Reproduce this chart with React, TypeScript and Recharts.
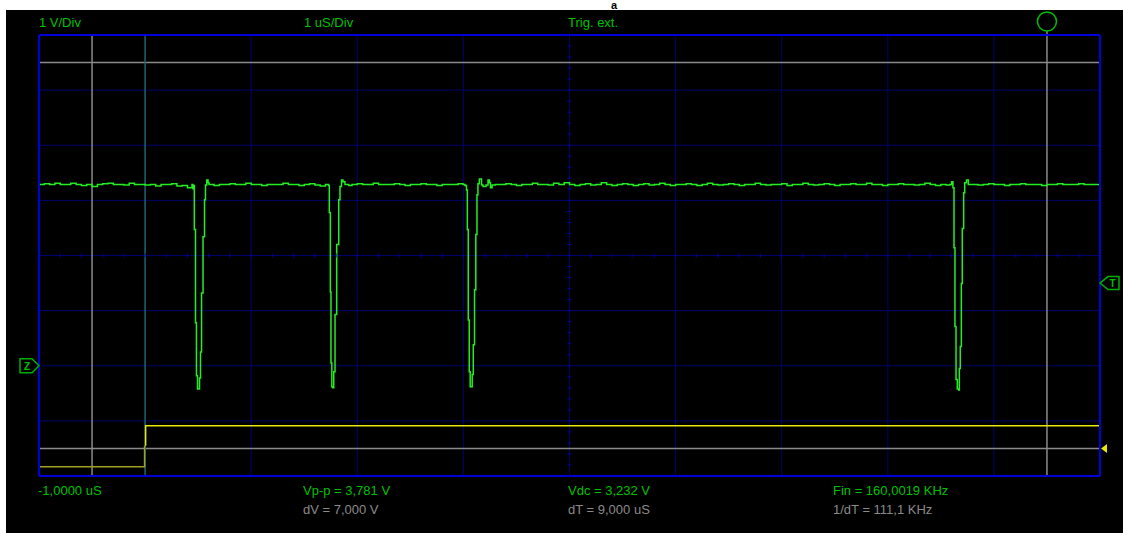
import React from 'react';
import {
  ComposedChart, Line, Scatter, XAxis, YAxis, CartesianGrid, ReferenceLine, ReferenceDot
} from 'recharts';

// time base: 1 uS/Div, starts at -1 uS ; ch1: 1 V/Div
const timeTicks = [-1, 0, 1, 2, 3, 4, 5, 6, 7, 8, 9];
const voltTicks = [-2, -1, 0, 1, 2, 3, 4, 5, 6];
const timeMinor = Array.from({ length: 51 }, (_, i) => -1 + i * 0.2);
const voltMinor = Array.from({ length: 41 }, (_, i) => -2 + i * 0.2);

// channel 1 (green) samples [uS, V]
const ch1Samples: [number, number][] = [
  [-1.00, 3.29], [-0.95, 3.30], [-0.90, 3.29], [-0.85, 3.31], [-0.80, 3.29], [-0.75, 3.29],
  [-0.70, 3.31], [-0.65, 3.29], [-0.60, 3.27], [-0.55, 3.29], [-0.50, 3.25], [-0.45, 3.29],
  [-0.40, 3.30], [-0.35, 3.31], [-0.30, 3.29], [-0.25, 3.29], [-0.20, 3.28], [-0.15, 3.31],
  [-0.10, 3.29], [-0.05, 3.29], [0.00, 3.28], [0.05, 3.29], [0.10, 3.26], [0.15, 3.29],
  [0.20, 3.29], [0.25, 3.30], [0.30, 3.26], [0.35, 3.27], [0.40, 3.23],
  // pulse 1
  [0.442, 3.29], [0.451, 3.21], [0.459, 3.27], [0.464, 2.47], [0.475, 0.78], [0.484, -0.18],
  [0.494, -0.42], [0.503, -0.42], [0.513, -0.22], [0.522, 0.25], [0.532, 1.32], [0.546, 2.34],
  [0.560, 3.01], [0.569, 3.28], [0.581, 3.37], [0.593, 3.32], [0.602, 3.29],
  [0.65, 3.27], [0.70, 3.29], [0.75, 3.29], [0.80, 3.30], [0.85, 3.29], [0.90, 3.29],
  [0.95, 3.31], [1.00, 3.29], [1.05, 3.29], [1.10, 3.27], [1.15, 3.29], [1.20, 3.29],
  [1.25, 3.29], [1.30, 3.31], [1.35, 3.29], [1.40, 3.29], [1.45, 3.27], [1.50, 3.29],
  [1.55, 3.30], [1.60, 3.28], [1.65, 3.26], [1.70, 3.29],
  // pulse 2
  [1.729, 3.27], [1.736, 2.78], [1.746, 1.34], [1.752, 0.05], [1.760, -0.38], [1.768, -0.40],
  [1.778, -0.11], [1.790, 0.93], [1.806, 2.20], [1.825, 3.01], [1.837, 3.25], [1.851, 3.37],
  [1.865, 3.34], [1.884, 3.29],
  [1.92, 3.27], [1.95, 3.29], [2.00, 3.30], [2.05, 3.29], [2.10, 3.29], [2.15, 3.31],
  [2.20, 3.29], [2.25, 3.29], [2.30, 3.29], [2.35, 3.30], [2.40, 3.29], [2.45, 3.27],
  [2.50, 3.29], [2.55, 3.29], [2.60, 3.30], [2.65, 3.29], [2.70, 3.29], [2.75, 3.27],
  [2.80, 3.29], [2.85, 3.29], [2.90, 3.29], [2.95, 3.30],
  // pulse 3
  [2.996, 3.29], [3.015, 3.27], [3.029, 3.19], [3.037, 2.47], [3.046, 0.83], [3.055, -0.11],
  [3.064, -0.38], [3.073, -0.38], [3.083, -0.16], [3.093, 0.38], [3.105, 1.38], [3.117, 2.38],
  [3.128, 3.10], [3.137, 3.30], [3.150, 3.39], [3.171, 3.28], [3.185, 3.25], [3.213, 3.28],
  [3.232, 3.37], [3.246, 3.32], [3.255, 3.23], [3.270, 3.28],
  [3.30, 3.29], [3.35, 3.29], [3.40, 3.30], [3.45, 3.29], [3.50, 3.27], [3.55, 3.29],
  [3.60, 3.29], [3.65, 3.31], [3.70, 3.29], [3.75, 3.29], [3.80, 3.28], [3.85, 3.31],
  [3.90, 3.29], [3.95, 3.32], [4.00, 3.29], [4.05, 3.27], [4.10, 3.29], [4.15, 3.30],
  [4.20, 3.28], [4.25, 3.29], [4.30, 3.32], [4.35, 3.29], [4.40, 3.27], [4.45, 3.29],
  [4.50, 3.30], [4.55, 3.29], [4.60, 3.27], [4.65, 3.29], [4.70, 3.30], [4.75, 3.28],
  [4.80, 3.29], [4.85, 3.31], [4.90, 3.29], [4.95, 3.27], [5.00, 3.29], [5.05, 3.29],
  [5.10, 3.30], [5.15, 3.29], [5.20, 3.27], [5.25, 3.29], [5.30, 3.31], [5.35, 3.29],
  [5.40, 3.28], [5.45, 3.29], [5.50, 3.30], [5.55, 3.29], [5.60, 3.27], [5.65, 3.29],
  [5.70, 3.29], [5.75, 3.31], [5.80, 3.29], [5.85, 3.28], [5.90, 3.29], [5.95, 3.29],
  [6.00, 3.30], [6.05, 3.27], [6.10, 3.29], [6.15, 3.29], [6.20, 3.31], [6.25, 3.29],
  [6.30, 3.28], [6.35, 3.29], [6.40, 3.30], [6.45, 3.29], [6.50, 3.27], [6.55, 3.29],
  [6.60, 3.29], [6.65, 3.30], [6.70, 3.29], [6.75, 3.29], [6.80, 3.31], [6.85, 3.29],
  [6.90, 3.29], [6.95, 3.27], [7.00, 3.29], [7.05, 3.29], [7.10, 3.30], [7.15, 3.29],
  [7.20, 3.29], [7.25, 3.28], [7.30, 3.29], [7.35, 3.31], [7.40, 3.29], [7.45, 3.27],
  [7.50, 3.29], [7.55, 3.28],
  // pulse 4
  [7.586, 3.29], [7.602, 3.34], [7.614, 3.23], [7.624, 2.14], [7.633, 0.71], [7.643, -0.25],
  [7.655, -0.42], [7.668, -0.44], [7.674, -0.05], [7.683, 0.35], [7.693, 1.49], [7.702, 2.49],
  [7.715, 3.14], [7.725, 3.32], [7.742, 3.37], [7.759, 3.29],
  [7.80, 3.29], [7.85, 3.28], [7.90, 3.29], [7.95, 3.30], [8.00, 3.29], [8.05, 3.29],
  [8.10, 3.27], [8.15, 3.29], [8.20, 3.29], [8.25, 3.30], [8.30, 3.29], [8.35, 3.29],
  [8.40, 3.29], [8.45, 3.27], [8.50, 3.29], [8.55, 3.29], [8.60, 3.30], [8.65, 3.29],
  [8.70, 3.29], [8.75, 3.29], [8.80, 3.30], [8.85, 3.29], [8.90, 3.29], [8.95, 3.29],
  [9.00, 3.29],
];

// channel 2 (yellow), pre-trigger part drawn dimmed
const ch2Pre: [number, number][] = [[-1, -1.83], [-0.005, -1.83], [-0.005, -1.45]];
const ch2Post: [number, number][] = [[0.005, -1.45], [0.005, -1.09], [9, -1.09]];

// cursors
const cursorTimes = [-0.5, 8.5];
const cursorVolts = [5.5, -1.5];
const triggerTime = 0;
const triggerLevel = 1.5;

const toPoints = (arr: [number, number][]) => arr.map(([t, v]) => ({ t, v }));

const GREEN = '#22ee22';
const TEXT_GREEN = '#00c000';
const GRAY = '#8a8a8a';
const GRID = '#00006e';
const BORDER = '#0000d8';
const TICK = '#0000a0';

const labelStyle: React.CSSProperties = {
  position: 'absolute',
  fontFamily: '"Liberation Sans", Arial, sans-serif',
  fontSize: 13,
  lineHeight: '16px',
  whiteSpace: 'nowrap',
};

const labels = [
  { text: '1 V/Div', x: 39, y: 15, c: TEXT_GREEN },
  { text: '1 uS/Div', x: 304, y: 15, c: TEXT_GREEN },
  { text: 'Trig. ext.', x: 568, y: 15, c: TEXT_GREEN },
  { text: '-1,0000 uS', x: 38, y: 483, c: TEXT_GREEN },
  { text: 'Vp-p = 3,781 V', x: 303, y: 483, c: TEXT_GREEN },
  { text: 'Vdc = 3,232 V', x: 568, y: 483, c: TEXT_GREEN },
  { text: 'Fin = 160,0019 KHz', x: 833, y: 483, c: TEXT_GREEN },
  { text: 'dV = 7,000 V', x: 303, y: 502, c: GRAY },
  { text: 'dT = 9,000 uS', x: 568, y: 502, c: GRAY },
  { text: '1/dT = 111,1 KHz', x: 833, y: 502, c: GRAY },
];

const TMarker = (p: any) => {
  const { cx, cy } = p;
  return (
    <g>
      <path d={`M${cx},${cy} L${cx + 8},${cy - 6.5} L${cx + 19},${cy - 6.5} L${cx + 19},${cy + 6.5} L${cx + 8},${cy + 6.5} Z`}
        fill="#000" stroke="#00b000" strokeWidth={1.5} />
      <text x={cx + 12.5} y={cy + 4} textAnchor="middle" fill="#00c000" fontSize={10} fontWeight="bold"
        fontFamily="Liberation Sans, Arial, sans-serif">T</text>
    </g>
  );
};

const ZMarker = (p: any) => {
  const { cx, cy } = p;
  return (
    <g>
      <path d={`M${cx},${cy} L${cx - 7},${cy - 7} L${cx - 19},${cy - 7} L${cx - 19},${cy + 7} L${cx - 7},${cy + 7} Z`}
        fill="#000" stroke="#00b000" strokeWidth={1.5} />
      <text x={cx - 12} y={cy + 4} textAnchor="middle" fill="#00c000" fontSize={10} fontWeight="bold"
        fontFamily="Liberation Sans, Arial, sans-serif">Z</text>
    </g>
  );
};

const YellowMarker = (p: any) => {
  const { cx, cy } = p;
  return <path d={`M${cx + 1},${cy} L${cx + 7},${cy - 4.5} L${cx + 7},${cy + 4.5} Z`} fill="#e8e800" />;
};

const vTick = (p: any) => <line x1={p.cx} x2={p.cx} y1={p.cy - 2} y2={p.cy + 2} stroke={TICK} />;
const hTick = (p: any) => <line x1={p.cx - 2} x2={p.cx + 2} y1={p.cy} y2={p.cy} stroke={TICK} />;

export default function App() {
  const ch1 = toPoints(ch1Samples);
  const hCenter = timeMinor.map(t => ({ t, v: 2 }));
  const vCenter = voltMinor.map(v => ({ t: 4, v }));

  return (
    <div style={{ position: 'absolute', left: 0, top: 0, width: 1123, height: 533, background: '#fff', overflow: 'hidden' }}>
      <div style={{ position: 'absolute', left: 6, top: 10, right: 0, bottom: 0, background: '#000' }} />
      <div style={{
        position: 'absolute', left: 600, top: 0, width: 28, textAlign: 'center',
        fontFamily: '"Liberation Sans", Arial, sans-serif', fontSize: 11, fontWeight: 'bold', color: '#000', lineHeight: '10px'
      }}>a</div>
      <div style={{ position: 'absolute', left: 0, top: 0 }}>
        <ComposedChart width={1123} height={533} margin={{ top: 35, right: 23, bottom: 57, left: 39 }}>
          <CartesianGrid stroke={GRID} strokeWidth={1} />
          <XAxis dataKey="t" type="number" domain={[-1, 9]} ticks={timeTicks} hide allowDataOverflow />
          <YAxis dataKey="v" type="number" domain={[-2, 6]} ticks={voltTicks} hide allowDataOverflow />
          <XAxis xAxisId="top" orientation="top" mirror type="number" domain={[-1, 9]} ticks={timeMinor}
            interval={0} tick={false} tickSize={3} allowDataOverflow
            axisLine={{ stroke: BORDER, strokeWidth: 2 }} tickLine={{ stroke: TICK }} />
          <XAxis xAxisId="bottom" orientation="bottom" mirror type="number" domain={[-1, 9]} ticks={timeMinor}
            interval={0} tick={false} tickSize={3} allowDataOverflow
            axisLine={{ stroke: BORDER, strokeWidth: 2 }} tickLine={{ stroke: TICK }} />
          <YAxis yAxisId="left" orientation="left" mirror type="number" domain={[-2, 6]} ticks={voltMinor}
            interval={0} tick={false} tickSize={3} allowDataOverflow
            axisLine={{ stroke: BORDER, strokeWidth: 2 }} tickLine={{ stroke: TICK }} />
          <YAxis yAxisId="right" orientation="right" mirror type="number" domain={[-2, 6]} ticks={voltMinor}
            interval={0} tick={false} tickSize={3} allowDataOverflow
            axisLine={{ stroke: BORDER, strokeWidth: 2 }} tickLine={{ stroke: TICK }} />

          <Scatter data={hCenter} shape={vTick} isAnimationActive={false} />
          <Scatter data={vCenter} shape={hTick} isAnimationActive={false} />

          {cursorVolts.map(v => (
            <ReferenceLine key={`cv${v}`} y={v} stroke={GRAY} strokeWidth={1.5} />
          ))}
          <ReferenceLine x={cursorTimes[0]} stroke={GRAY} strokeWidth={1.5} />
          <ReferenceLine segment={[{ x: cursorTimes[1], y: 6.073 }, { x: cursorTimes[1], y: -2 }]}
            stroke={GRAY} strokeWidth={1.5} ifOverflow="visible" />
          <ReferenceLine x={triggerTime} stroke="#1f6464" strokeWidth={1.5} />

          <Line data={toPoints(ch2Pre)} dataKey="v" type="linear" stroke="#a0a020" strokeWidth={1.5}
            dot={false} isAnimationActive={false} />
          <Line data={toPoints(ch2Post)} dataKey="v" type="linear" stroke="#e8e800" strokeWidth={1.5}
            dot={false} isAnimationActive={false} />
          <Line data={ch1} dataKey="v" type="stepAfter" stroke={GREEN} strokeWidth={1.5}
            dot={false} isAnimationActive={false} />

          <ReferenceDot x={cursorTimes[1]} y={6.246} r={9.5} fill="none" stroke="#00c000" strokeWidth={1.5}
            ifOverflow="visible" />
          <ReferenceDot x={9} y={triggerLevel} shape={TMarker} ifOverflow="visible" />
          <ReferenceDot x={-1} y={0} shape={ZMarker} ifOverflow="visible" />
          <ReferenceDot x={9} y={cursorVolts[1]} shape={YellowMarker} ifOverflow="visible" />
        </ComposedChart>
      </div>
      {labels.map(l => (
        <div key={l.text} style={{ ...labelStyle, left: l.x, top: l.y, color: l.c }}>{l.text}</div>
      ))}
    </div>
  );
}
